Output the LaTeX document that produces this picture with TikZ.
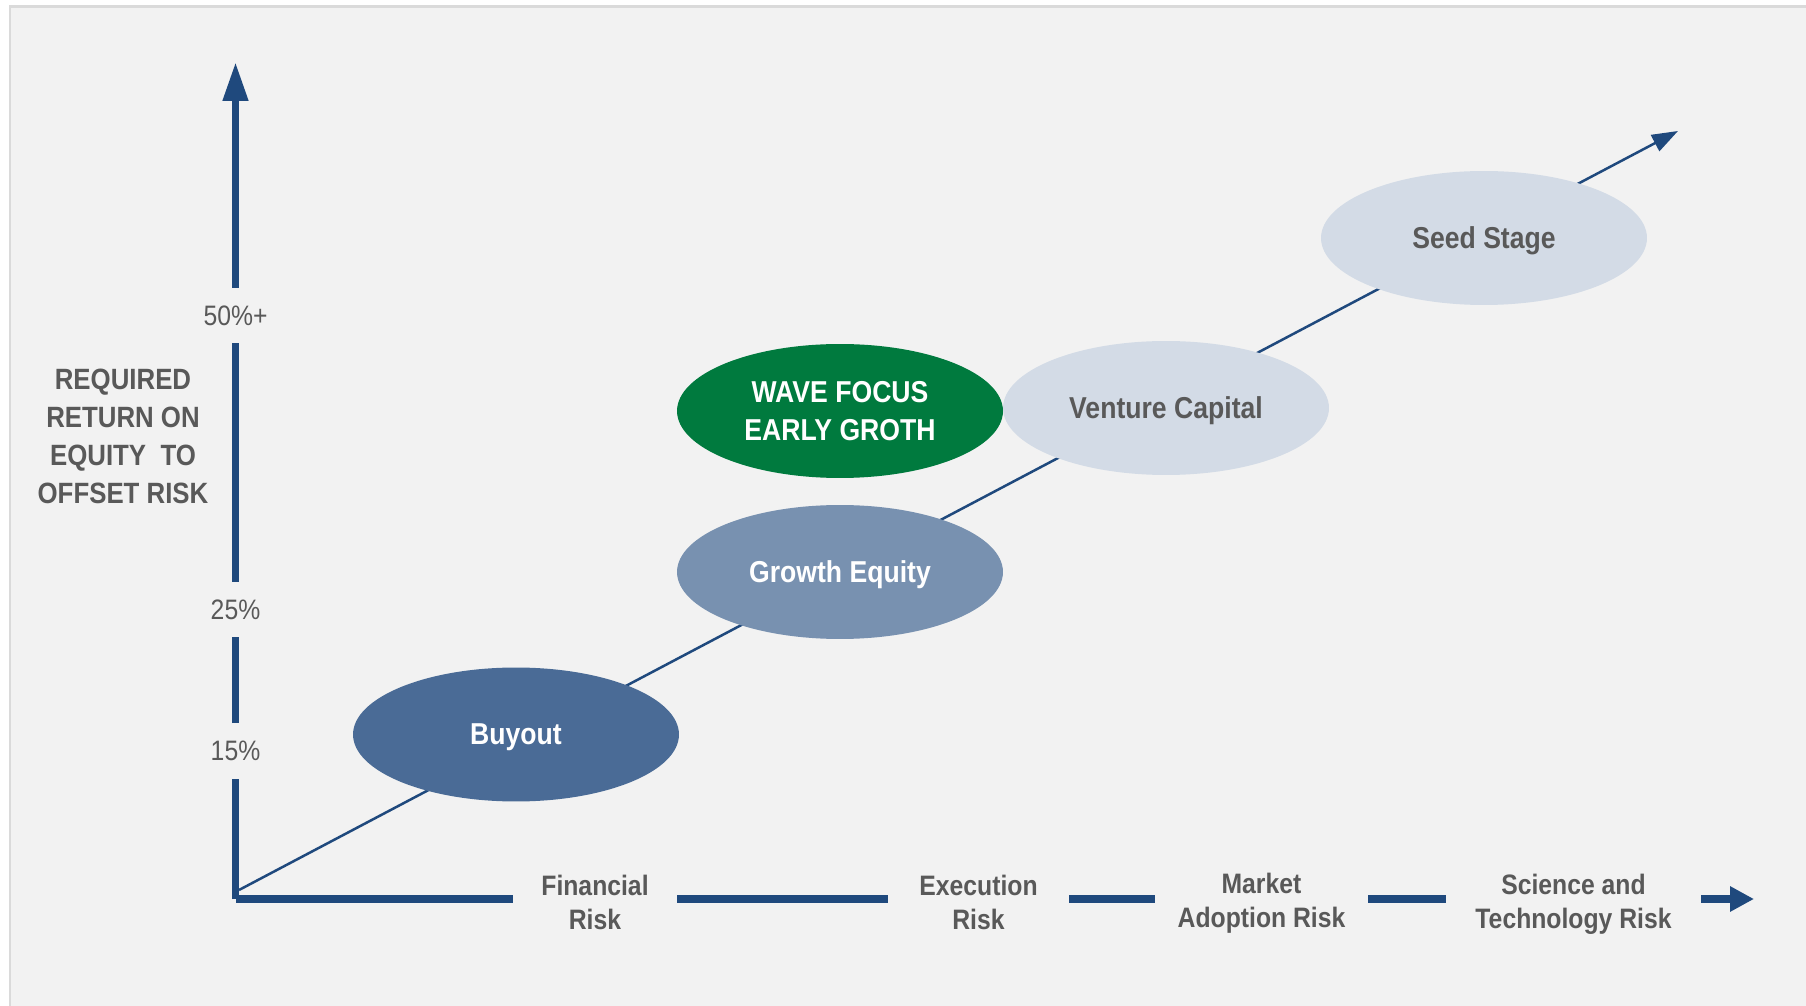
\documentclass[tikz,border=0pt]{standalone}
\usepackage{fontspec}
\setmainfont{Liberation Sans}[FakeStretch=0.88]
\usetikzlibrary{arrows.meta,shapes.geometric}
\definecolor{axisblue}{HTML}{1F497D}
\definecolor{buyblue}{HTML}{4A6B96}
\definecolor{growblue}{HTML}{7891B0}
\definecolor{paleblue}{HTML}{D3DBE6}
\definecolor{wavegreen}{HTML}{007A3E}
\definecolor{txtgrey}{HTML}{595959}
\definecolor{bgfill}{HTML}{F2F2F2}
\definecolor{bgline}{HTML}{DADADA}
\newcommand{\axisw}{0.15cm}
\newcommand{\diagw}{0.05cm}

\tikzset{
  stage/.style={ellipse, minimum width=6.52cm, minimum height=2.68cm, inner sep=0pt,
    text depth=0pt, align=center, font=\bfseries\fontsize{17.2}{21.6}\selectfont},
  tick/.style={minimum height=1.1cm, inner sep=0pt, text=txtgrey, font=\fontsize{16}{19}\selectfont},
  risk/.style={inner sep=0pt, align=center, text=txtgrey, font=\bfseries\fontsize{16}{19.4}\selectfont},
  axisline/.style={draw=axisblue, line width=\axisw},
  diag/.style={draw=axisblue, line width=\diagw}
}

\begin{document}
\begin{tikzpicture}[x=0.02cm, y=-0.02cm]
        \useasboundingbox (0,0) rectangle (1806,1006);
        \fill[bgfill, draw=bgline, line width=0.06cm] (10,7) rectangle (1840,1040);
        
        \coordinate (origin) at (235.5,899);
        \coordinate (ytop) at (235.5,62);
        \coordinate (xtip) at (1754,899);
        \coordinate (dstart) at (239,890);
        \coordinate (dtip) at (1678,131);
        
        % return levels
        \node[tick] (r50) at (235.5,315.5) {50\%+};
        \node[tick] (r25) at (235.5,609.5) {25\%};
        \node[tick] (r15) at (235.5,751) {15\%};
        
        \node[align=center, text=txtgrey, inner sep=0pt,
          font=\bfseries\fontsize{16.7}{21.5}\selectfont] (ylabel) at (123,436.5)
          {REQUIRED\\RETURN ON\\EQUITY\ \ TO\\OFFSET RISK};
        
        % risk types
        \node[risk, minimum width=3.28cm] (fin) at (595,902) {Financial\\Risk};
        \node[risk, minimum width=3.62cm] (exe) at (978.5,902) {Execution\\Risk};
        \node[risk, minimum width=4.26cm] (mkt) at (1261.5,903) {Market\\Adoption Risk};
        \node[risk, minimum width=5.1cm] (sci) at (1573.5,904) {Science and\\Technology Risk};
        
        \draw[axisline] (origin) -- (r15.south);
        \draw[axisline] (r15.north) -- (r25.south);
        \draw[axisline] (r25.north) -- (r50.south);
        \draw[axisline, -{Triangle[width=0.48cm, length=0.78cm]}] (r50.north) -- (ytop);
        
        \draw[axisline] (origin) -- (origin -| fin.west);
        \draw[axisline] (fin.east |- origin) -- (exe.west |- origin);
        \draw[axisline] (exe.east |- origin) -- (mkt.west |- origin);
        \draw[axisline] (mkt.east |- origin) -- (sci.west |- origin);
        \draw[axisline, -{Triangle[width=0.48cm, length=0.48cm]}] (sci.east |- origin) -- (xtip);
        
        \draw[diag, -{Triangle[width=0.36cm, length=0.52cm]}] (dstart) -- (dtip);
        
        % investment stages
        \node[stage, fill=buyblue, text=white] (buyout) at (516,734.5) {Buyout};
        \node[stage, fill=growblue, text=white] (growth) at (840,572) {Growth Equity};
        \node[stage, fill=wavegreen, text=white] (wave) at (840,411) {WAVE FOCUS\\EARLY GROTH};
        \node[stage, fill=paleblue, text=txtgrey] (venture) at (1166,408) {Venture Capital};
        \node[stage, fill=paleblue, text=txtgrey] (seed) at (1484,238) {Seed Stage};
        
\end{tikzpicture}
\end{document}
